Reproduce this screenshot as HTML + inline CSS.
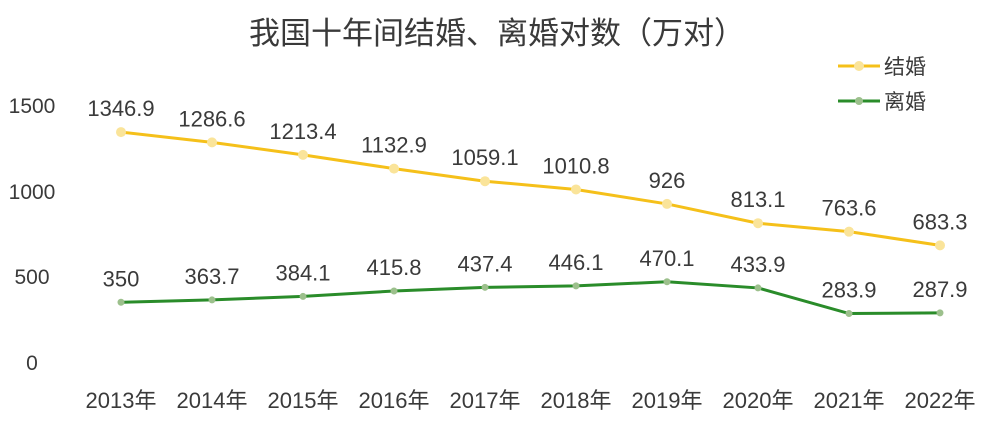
<!DOCTYPE html><html><head><meta charset="utf-8"><style>body{margin:0;background:#fff}svg text{font-family:"Liberation Sans","Noto Sans CJK SC",sans-serif;fill:#3a3a3a}</style></head><body>
<svg width="1000" height="419" xmlns="http://www.w3.org/2000/svg">
<text x="497" y="44" font-size="31" text-anchor="middle">我国十年间结婚、离婚对数（万对）</text>
<g font-size="21" text-anchor="middle">
<text x="32" y="113">1500</text><text x="32" y="199">1000</text><text x="32" y="284">500</text><text x="32" y="370">0</text>
</g>
<line x1="838" y1="66" x2="880" y2="66" stroke="#f5c01a" stroke-width="3"/><circle cx="859" cy="66" r="5" fill="#fae49a"/>
<text x="884" y="74" font-size="21">结婚</text>
<line x1="838" y1="101" x2="880" y2="101" stroke="#2a8c2a" stroke-width="3"/><circle cx="859" cy="101" r="4" fill="#9cc08c"/>
<text x="884" y="109" font-size="21">离婚</text>
<g id="c"></g>
</svg>
<script>
var m=[1346.9,1286.6,1213.4,1132.9,1059.1,1010.8,926,813.1,763.6,683.3],d=[350,363.7,384.1,415.8,437.4,446.1,470.1,433.9,283.9,287.9];
var g=document.getElementById('c'),s='',X=i=>121+i*91,Y=v=>362-v*0.1707;
function line(a,c,mc,r){var p=a.map((v,i)=>X(i)+','+Y(v)).join(' ');s+='<polyline points="'+p+'" fill="none" stroke="'+c+'" stroke-width="3"/>';a.forEach((v,i)=>{s+='<circle cx="'+X(i)+'" cy="'+Y(v)+'" r="'+r+'" fill="'+mc+'"/>';s+='<text x="'+X(i)+'" y="'+(Y(v)-16)+'" font-size="22" text-anchor="middle">'+v+'</text>'});}
line(m,'#f5c01a','#fae49a',5);line(d,'#2a8c2a','#9cc08c',3.5);
for(var i=0;i<10;i++)s+='<text x="'+X(i)+'" y="408" font-size="22" text-anchor="middle">'+(2013+i)+'年</text>';
g.innerHTML=s;
</script>
</body></html>
